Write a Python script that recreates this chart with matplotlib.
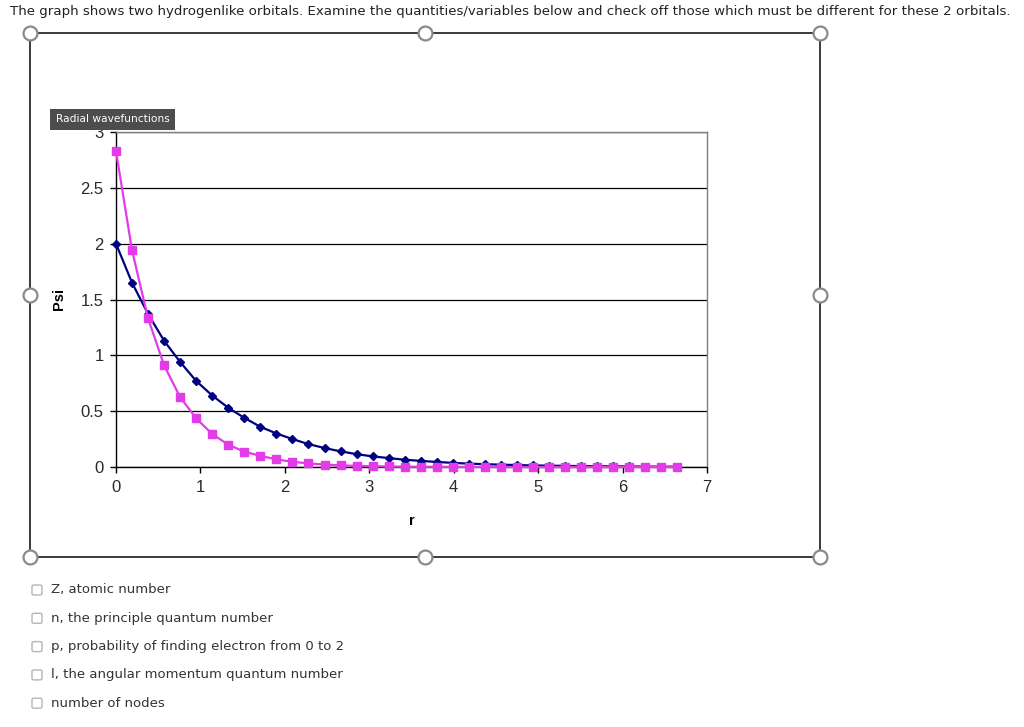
import matplotlib
matplotlib.use("Agg")
import matplotlib.pyplot as plt
from matplotlib.patches import Rectangle, FancyBboxPatch
from matplotlib.lines import Line2D

# ---- data ----
r_values = [0.00, 0.19, 0.38, 0.57, 0.76, 0.95, 1.14, 1.33, 1.52, 1.71,
            1.90, 2.09, 2.28, 2.47, 2.66, 2.85, 3.04, 3.23, 3.42, 3.61,
            3.80, 3.99, 4.18, 4.37, 4.56, 4.75, 4.94, 5.13, 5.32, 5.51,
            5.70, 5.89, 6.08, 6.27, 6.46, 6.65]
psi_navy = [2.00, 1.65, 1.37, 1.13, 0.94, 0.77, 0.64, 0.53, 0.44, 0.36,
            0.30, 0.25, 0.205, 0.17, 0.14, 0.115, 0.095, 0.08, 0.065, 0.055,
            0.045, 0.037, 0.030, 0.025, 0.021, 0.017, 0.014, 0.012, 0.010, 0.008,
            0.007, 0.006, 0.005, 0.004, 0.003, 0.003]
psi_magenta = [2.83, 1.94, 1.33, 0.91, 0.625, 0.435, 0.295, 0.20, 0.137, 0.10,
               0.068, 0.047, 0.032, 0.022, 0.015, 0.010, 0.007, 0.005, 0.003, 0.002,
               0.002, 0.001, 0.001, 0.0, 0.0, 0.0, 0.0, 0.0, 0.0, 0.0,
               0.0, 0.0, 0.0, 0.0, 0.0, 0.0]
x_ticks = [0, 1, 2, 3, 4, 5, 6, 7]
y_ticks = [0, 0.5, 1, 1.5, 2, 2.5, 3]
y_tick_labels = ["0", "0.5", "1", "1.5", "2", "2.5", "3"]
title_text = ("The graph shows two hydrogenlike orbitals. Examine the quantities/variables "
              "below and check off those which must be different for these 2 orbitals.")
options = ["Z, atomic number",
           "n, the principle quantum number",
           "p, probability of finding electron from 0 to 2",
           "l, the angular momentum quantum number",
           "number of nodes"]

W, H = 1024, 727
fig = plt.figure(figsize=(W / 100, H / 100), dpi=100)
fig.patch.set_facecolor("white")

def fx(px):
    return px / W

def fy(py):
    return 1 - py / H

# ---- axes ----
ax = fig.add_axes([fx(116), fy(467), (707 - 116) / W, (467 - 132) / H])
ax.set_xlim(0, 7)
ax.set_ylim(0, 3)
ax.set_xticks(x_ticks)
ax.set_yticks(y_ticks)
ax.set_yticklabels(y_tick_labels)
ax.yaxis.grid(True, color="black", linewidth=0.9)
ax.set_axisbelow(True)
for s in ["left", "bottom"]:
    ax.spines[s].set_color("black")
    ax.spines[s].set_linewidth(1.0)
for s in ["top", "right"]:
    ax.spines[s].set_color("#7f7f7f")
    ax.spines[s].set_linewidth(1.0)
ax.tick_params(axis="both", direction="out", length=4, width=1, labelsize=12,
               colors="black", labelcolor="#2a2a2a")
ax.tick_params(axis="y", pad=5)
ax.tick_params(axis="x", pad=5)
for lbl in ax.get_xticklabels() + ax.get_yticklabels():
    lbl.set_family("Liberation Sans")

ax.plot(r_values, psi_navy, color="#000080", linewidth=1.6, marker="D",
        markersize=4.5, markerfacecolor="#000080", markeredgecolor="#000080",
        zorder=3, clip_on=False)
ax.plot(r_values, psi_magenta, color="#E33BE8", linewidth=1.6, marker="s",
        markersize=6, markerfacecolor="#E33BE8", markeredgecolor="#E33BE8",
        zorder=4, clip_on=False)

ax.set_xlabel("r", fontsize=10.5, fontweight="bold", family="Liberation Sans", labelpad=14)
ax.set_ylabel("Psi", fontsize=10.5, fontweight="bold", family="Liberation Sans", labelpad=10)

# ---- "Radial wavefunctions" label box ----
fig.patches.append(Rectangle((fx(50), fy(130)), 125 / W, 21 / H, transform=fig.transFigure,
                             facecolor="#4d4d4d", edgecolor="none", zorder=10))
fig.text(fx(112.5), fy(119.5), "Radial wavefunctions", color="white", fontsize=7.7,
         ha="center", va="center", family="DejaVu Sans", zorder=11)

# ---- outer frame with handles ----
x1, x2, y1, y2 = 30, 820, 33, 557
for (a, b) in [((x1, y1), (x2, y1)), ((x2, y1), (x2, y2)), ((x2, y2), (x1, y2)), ((x1, y2), (x1, y1))]:
    fig.lines.append(Line2D([fx(a[0]), fx(b[0])], [fy(a[1]), fy(b[1])], transform=fig.transFigure,
                            color="#3a3a3a", linewidth=1.4, zorder=5))
xm, ym = (x1 + x2) / 2, (y1 + y2) / 2
for (px, py) in [(x1, y1), (xm, y1), (x2, y1), (x1, ym), (x2, ym), (x1, y2), (xm, y2), (x2, y2)]:
    fig.lines.append(Line2D([fx(px)], [fy(py)], transform=fig.transFigure, marker="o",
                            markersize=10, markerfacecolor="white", markeredgecolor="#8a8a8a",
                            markeredgewidth=1.6, linestyle="none", zorder=6))

# ---- title text ----
fig.text(fx(10), fy(11), title_text, fontsize=9.6, ha="left", va="center",
         color="#222222", family="DejaVu Sans")

# ---- checkbox options ----
for i, opt in enumerate(options):
    py = 590 + i * 28.3
    fig.patches.append(FancyBboxPatch((fx(32), fy(py + 5)), 10 / W, 10 / H,
                                      boxstyle="round,pad=0,rounding_size=0.002",
                                      transform=fig.transFigure, facecolor="white",
                                      edgecolor="#b5b5b5", linewidth=1.0))
    fig.text(fx(51), fy(py), opt, fontsize=9.5, ha="left", va="center",
             color="#333333", family="DejaVu Sans")

fig.savefig("out.png", dpi=100)
